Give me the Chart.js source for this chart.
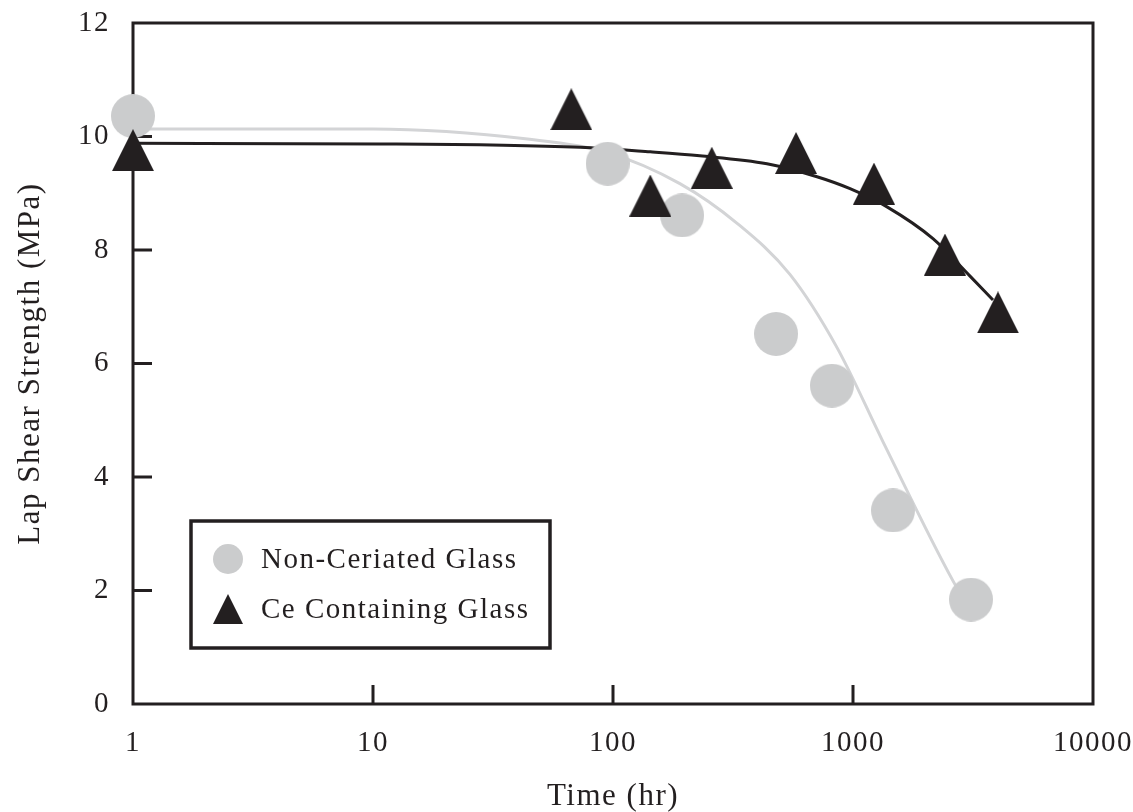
<!DOCTYPE html>
<html>
<head>
<meta charset="utf-8">
<script src="https://cdn.jsdelivr.net/npm/chart.js@4/dist/chart.umd.min.js"></script>
<style>
  html, body { margin: 0; padding: 0; background: #fff; }
  #wrap { width: 1133px; height: 812px; position: relative; }
</style>
</head>
<body>
<div id="wrap"><canvas id="chart"></canvas></div>
<script>
// Lap shear strength vs. ageing time, two sealing glasses

const seriesNames = ['Non-Ceriated Glass', 'Ce Containing Glass'];

// measured points, non-ceriated glass
const plainHours = [1, 95, 194, 478, 817, 1468, 3103];
const plainStrength = [10.36, 9.52, 8.61, 6.52, 5.61, 3.41, 1.84];

// measured points, Ce containing glass
const ceHours = [1, 67, 143, 258, 579, 1223, 2417, 4018];
const ceStrength = [9.76, 10.48, 8.96, 9.45, 9.71, 9.17, 7.92, 6.90];

// trend curves through each set
const plainFitHours = [1, 10, 45, 93, 190, 329, 546, 858, 1334, 2610, 2929];
const plainFitStrength = [10.13, 10.13, 9.95, 9.73, 9.17, 8.47, 7.57, 6.28, 4.62, 2.17, 1.82];

const ceFitHours = [1, 10.7, 73, 143, 230, 438, 708, 972, 1386, 2154, 3073, 3831];
const ceFitStrength = [9.88, 9.87, 9.81, 9.73, 9.66, 9.52, 9.29, 9.08, 8.76, 8.20, 7.54, 7.12];

const xTickValues = [1, 10, 100, 1000, 10000];
const yTickValues = [0, 2, 4, 6, 8, 10, 12];

const GREY = '#cbcccd';
const INK = '#231f20';
const FONT = "'Liberation Serif', 'Times New Roman', serif";

function toPoints(xs, ys) {
  return xs.map((x, i) => ({ x: x, y: ys[i] }));
}

function circleMarker(d, color) {
  const c = document.createElement('canvas');
  c.width = d; c.height = d;
  const g = c.getContext('2d');
  g.fillStyle = color;
  g.beginPath();
  g.arc(d / 2, d / 2, d / 2, 0, Math.PI * 2);
  g.fill();
  return c;
}

function triangleMarker(w, h, color) {
  const c = document.createElement('canvas');
  c.width = w; c.height = h;
  const g = c.getContext('2d');
  g.fillStyle = color;
  g.beginPath();
  g.moveTo(w / 2, 0);
  g.lineTo(w, h);
  g.lineTo(0, h);
  g.closePath();
  g.fill();
  return c;
}

const dotBig = circleMarker(44, GREY);
const triBig = triangleMarker(42, 42, INK);
const dotSmall = circleMarker(30, GREY);
const triSmall = triangleMarker(30, 30, INK);

// frame around the plot plus inward tick marks
const framePlugin = {
  id: 'frame',
  beforeDraw(chart) {
    chart.ctx.letterSpacing = '1.5px';
  },
  beforeDatasetsDraw(chart) {
    const { ctx, chartArea: a, scales } = chart;
    ctx.save();
    ctx.strokeStyle = INK;
    ctx.lineWidth = 3;
    ctx.strokeRect(a.left, a.top, a.right - a.left, a.bottom - a.top);
    ctx.beginPath();
    yTickValues.slice(1, -1).forEach(v => {
      const py = scales.y.getPixelForValue(v);
      ctx.moveTo(a.left, py);
      ctx.lineTo(a.left + 19, py);
    });
    xTickValues.slice(1, -1).forEach(v => {
      const px = scales.x.getPixelForValue(v);
      ctx.moveTo(px, a.bottom);
      ctx.lineTo(px, a.bottom - 19);
    });
    ctx.stroke();
    ctx.restore();
  }
};

// boxed key in the lower left of the plot
const keyPlugin = {
  id: 'key',
  afterDatasetsDraw(chart) {
    const { ctx, chartArea: a } = chart;
    const left = a.left + 58, top = a.top + 498, w = 359, h = 127;
    ctx.save();
    ctx.fillStyle = '#fff';
    ctx.fillRect(left, top, w, h);
    ctx.strokeStyle = INK;
    ctx.lineWidth = 3.5;
    ctx.strokeRect(left, top, w, h);
    const marks = [dotSmall, triSmall];
    ctx.font = '29px ' + FONT;
    ctx.letterSpacing = '1.5px';
    ctx.fillStyle = INK;
    ctx.textBaseline = 'middle';
    seriesNames.forEach((name, i) => {
      const cy = top + 38 + i * 50;
      const m = marks[i];
      ctx.drawImage(m, left + 37 - m.width / 2, cy - m.height / 2);
      ctx.fillText(name, left + 70, cy + 1);
    });
    ctx.restore();
  }
};

new Chart(document.getElementById('chart'), {
  type: 'scatter',
  data: {
    datasets: [
      {
        label: seriesNames[0] + ' fit',
        type: 'line',
        data: toPoints(plainFitHours, plainFitStrength),
        borderColor: '#d3d4d6',
        borderWidth: 3,
        pointRadius: 0,
        cubicInterpolationMode: 'monotone',
        clip: false,
        order: 4
      },
      {
        label: seriesNames[1] + ' fit',
        type: 'line',
        data: toPoints(ceFitHours, ceFitStrength),
        borderColor: INK,
        borderWidth: 3,
        pointRadius: 0,
        cubicInterpolationMode: 'monotone',
        clip: false,
        order: 3
      },
      {
        label: seriesNames[0],
        data: toPoints(plainHours, plainStrength),
        pointStyle: dotBig,
        pointRadius: 22,
        pointHoverRadius: 22,
        clip: false,
        order: 2
      },
      {
        label: seriesNames[1],
        data: toPoints(ceHours, ceStrength),
        pointStyle: triBig,
        pointRadius: 22,
        pointHoverRadius: 22,
        clip: false,
        order: 1
      }
    ]
  },
  options: {
    responsive: true,
    maintainAspectRatio: false,
    animation: false,
    events: [],
    layout: { padding: { top: 18, right: 40, left: 0, bottom: 0 } },
    plugins: {
      legend: { display: false },
      tooltip: { enabled: false }
    },
    scales: {
      x: {
        type: 'logarithmic',
        min: 1,
        max: 10000,
        afterBuildTicks: (scale) => {
          scale.ticks = xTickValues.map(v => ({ value: v }));
        },
        afterFit: (scale) => {
          scale.height = 108;
          scale.paddingLeft = 0;
          scale.paddingRight = 0;
        },
        grid: { display: false, drawTicks: false },
        border: { display: false },
        ticks: {
          color: INK,
          padding: 25,
          maxRotation: 0,
          autoSkip: false,
          font: { family: FONT, size: 29, lineHeight: 1 },
          callback: (v) => String(v)
        },
        title: {
          display: true,
          text: 'Time (hr)',
          color: INK,
          padding: { top: 0, bottom: 0 },
          font: { family: FONT, size: 31, lineHeight: 1 }
        }
      },
      y: {
        min: 0,
        max: 12,
        afterBuildTicks: (scale) => {
          scale.ticks = yTickValues.map(v => ({ value: v }));
        },
        afterFit: (scale) => {
          scale.width = 133;
          scale.paddingTop = 0;
          scale.paddingBottom = 0;
        },
        grid: { display: false, drawTicks: false },
        border: { display: false },
        ticks: {
          color: INK,
          padding: 23,
          font: { family: FONT, size: 29, lineHeight: 1 }
        },
        title: {
          display: true,
          text: 'Lap Shear Strength (MPa)',
          color: INK,
          padding: { top: 12, bottom: 0 },
          font: { family: FONT, size: 31, lineHeight: 1.2 }
        }
      }
    }
  },
  plugins: [framePlugin, keyPlugin]
});
</script>
</body>
</html>
